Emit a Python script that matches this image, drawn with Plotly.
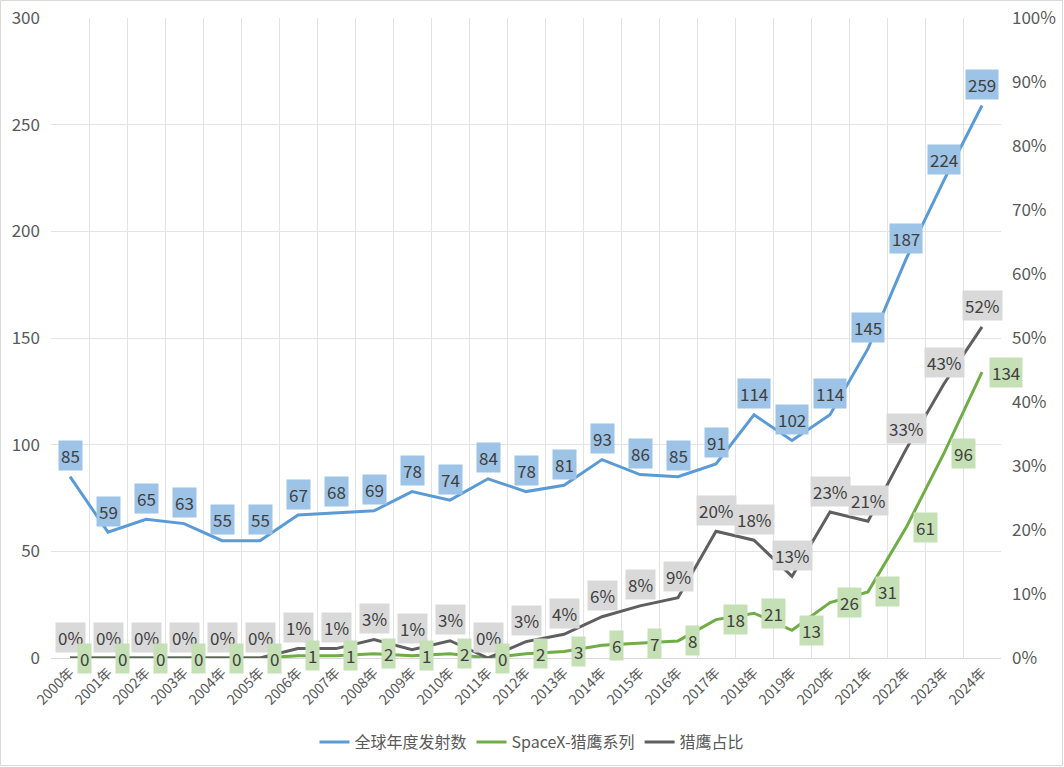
import plotly.graph_objects as go

years = [f"{y}年" for y in range(2000, 2025)]
global_launches = [85, 59, 65, 63, 55, 55, 67, 68, 69, 78, 74, 84, 78, 81, 93, 86, 85, 91, 114, 102, 114, 145, 187, 224, 259]
falcon_launches = [0, 0, 0, 0, 0, 0, 1, 1, 2, 1, 2, 0, 2, 3, 6, 7, 8, 18, 21, 13, 26, 31, 61, 96, 134]
falcon_share = [0, 0, 0, 0, 0, 0, 0.0149, 0.0147, 0.029, 0.0128, 0.027, 0, 0.0256, 0.037, 0.0645, 0.0814,
                0.0941, 0.198, 0.184, 0.1275, 0.228, 0.2138, 0.326, 0.4286, 0.5174]

BLUE = "#5B9BD5"
GREEN = "#70AD47"
GRAY = "#5F5F5F"
TXT = "#404040"
AX = "#595959"
FONT = "Microsoft YaHei, Noto Sans CJK SC, sans-serif"

fig = go.Figure()
fig.add_trace(go.Scatter(x=years, y=global_launches, name="全球年度发射数", mode="lines",
                         line=dict(color=BLUE, width=3)))
fig.add_trace(go.Scatter(x=years, y=falcon_launches, name="SpaceX-猎鹰系列", mode="lines",
                         line=dict(color=GREEN, width=3)))
fig.add_trace(go.Scatter(x=years, y=falcon_share, name="猎鹰占比", mode="lines", yaxis="y2",
                         line=dict(color=GRAY, width=3)))

LBL = dict(size=17, color=TXT, family=FONT)
ann = []
for x, v in zip(years, global_launches):
    ann.append(dict(x=x, y=v, xref="x", yref="y", text=str(v), showarrow=False, yshift=21,
                    bgcolor="#9DC3E6", borderpad=2, font=LBL))
for x, v in zip(years, falcon_share):
    ann.append(dict(x=x, y=v, xref="x", yref="y2", text=f"{v:.0%}", showarrow=False, yshift=21,
                    bgcolor="#D9D9D9", borderpad=2, font=LBL))
for x, v in zip(years, falcon_launches):
    ann.append(dict(x=x, y=v, xref="x", yref="y", text=str(v), showarrow=False, xanchor="left", xshift=7,
                    bgcolor="#C5E0B4", borderpad=2, font=LBL))

W, H = 1064, 767
ml, mr, mt, mb = 51, 63, 18, 109
pw, ph = W - ml - mr, H - mt - mb

fig.update_layout(
    width=W, height=H,
    margin=dict(l=ml, r=mr, t=mt, b=mb, autoexpand=False),
    paper_bgcolor="white", plot_bgcolor="white",
    font=dict(family=FONT, color=AX),
    showlegend=True,
    legend=dict(orientation="h", x=0.5, xanchor="center", xref="container",
                y=1 - 742 / H, yanchor="middle", yref="container",
                font=dict(size=16, color=AX), itemwidth=30, tracegroupgap=0),
    xaxis=dict(type="category", tickson="boundaries", showgrid=True, gridcolor="#E3E3E3", gridwidth=1,
               showline=True, linecolor="#D9D9D9", linewidth=1, ticks="", tickangle=-45, automargin=False,
               tickfont=dict(size=14, color=AX), range=[-0.5, 24.5], zeroline=False),
    yaxis=dict(range=[0, 300], dtick=50, showgrid=True, gridcolor="#E3E3E3", gridwidth=1, automargin=False,
               zeroline=False, showline=False, ticks="", ticklabelstandoff=10,
               tickfont=dict(size=17, color=AX)),
    yaxis2=dict(range=[0, 1], dtick=0.1, tickformat=".0%", overlaying="y", side="right", automargin=False,
                showgrid=False, zeroline=False, showline=False, ticks="", ticklabelstandoff=10,
                tickfont=dict(size=17, color=AX)),
    annotations=ann,
    shapes=[dict(type="rect", xref="paper", yref="paper",
                 x0=(0.5 - ml) / pw, x1=1 + (mr - 1.5) / pw,
                 y0=-(mb - 1.5) / ph, y1=1 + (mt - 0.5) / ph,
                 line=dict(color="#D9D9D9", width=1), fillcolor="rgba(0,0,0,0)", layer="below")],
)

post = ("var gd=document.getElementById('{plot_id}');"
        "document.body.style.margin='0';document.body.style.overflow='hidden';"
        "gd.style.position='fixed';gd.style.top='0';gd.style.left='0';")
fig.write_html("out.html", post_script=post, config={"displayModeBar": False})
